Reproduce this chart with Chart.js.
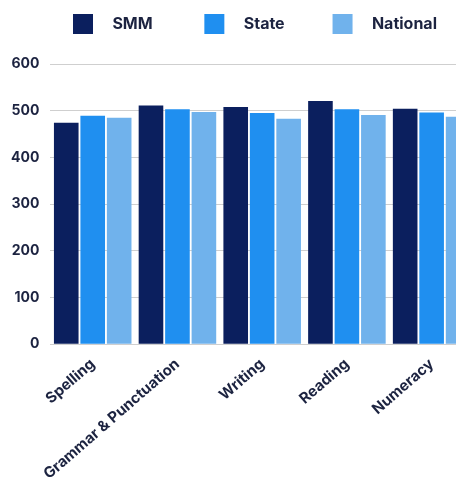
<!DOCTYPE html>
<html>
<head>
<meta charset="utf-8">
<script src="https://cdn.jsdelivr.net/npm/chart.js@4"></script>
<style>
  html, body { margin: 0; padding: 0; background: #fff; overflow: hidden; }
  #wrap { position: absolute; left: 0; top: 0; width: 474px; height: 493px; }
</style>
</head>
<body>
<div id="wrap"><canvas id="myChart"></canvas></div>
<script>
const labels = ['Spelling', 'Grammar & Punctuation', 'Writing', 'Reading', 'Numeracy'];
const smm = [474, 511, 508, 521, 504];
const state = [489, 503, 495, 503, 496];
const national = [485, 497, 483, 491, 487];
const yTicks = [0, 100, 200, 300, 400, 500, 600];

const textColor = '#1c2340';
const font = 'Inter, "DejaVu Sans", sans-serif';

// extra room under the legend, and nudge it right a little
const legendGap = {
    id: 'legendGap',
    beforeInit(chart) {
        const fit = chart.legend.fit;
        chart.legend.fit = function () {
            fit.bind(chart.legend)();
            this.height += 20;
        };
    },
    afterLayout(chart) {
        chart.legend.left += 18;
        chart.legend.right += 18;
    }
};

const data = {
    labels: labels,
    datasets: [{
        label: 'SMM',
        backgroundColor: '#0b1f5e',
        data: smm
    }, {
        label: 'State',
        backgroundColor: '#1f8ff0',
        data: state
    }, {
        label: 'National',
        backgroundColor: '#70b2ec',
        data: national
    }]
};

const legendTail = ['           ', '          ', ''];

const config = {
    type: 'bar',
    data: data,
    plugins: [legendGap],
    options: {
        responsive: true,
        maintainAspectRatio: false,
        animation: false,
        categoryPercentage: 0.937,
        barPercentage: 0.93,
        layout: {
            padding: { left: 0, right: 0, top: 4, bottom: 7 }
        },
        plugins: {
            legend: {
                display: true,
                position: 'top',
                labels: {
                    boxWidth: 20,
                    boxHeight: 20,
                    padding: 10,
                    color: textColor,
                    font: { family: font, size: 16, weight: 'bold' },
                    generateLabels: function (chart) {
                        const items = Chart.defaults.plugins.legend.labels.generateLabels(chart);
                        items.forEach(function (it, i) {
                            it.text = '   ' + it.text + legendTail[i];
                        });
                        return items;
                    }
                }
            },
            tooltip: { enabled: false }
        },
        scales: {
            x: {
                grid: { display: false },
                border: { display: false },
                ticks: {
                    color: textColor,
                    font: { family: font, size: 15, weight: 'bold' },
                    minRotation: 41,
                    maxRotation: 41,
                    autoSkip: false,
                    padding: 3
                }
            },
            y: {
                min: 0,
                max: 600,
                afterBuildTicks: function (axis) {
                    axis.ticks = yTicks.map(function (v) { return { value: v }; });
                },
                grid: { color: '#cfcfcf', drawTicks: false },
                border: { display: false },
                ticks: {
                    color: textColor,
                    font: { family: font, size: 14, weight: 'bold' },
                    padding: 11
                }
            }
        }
    }
};

var myChart = new Chart(document.getElementById('myChart'), config);
</script>
</body>
</html>
